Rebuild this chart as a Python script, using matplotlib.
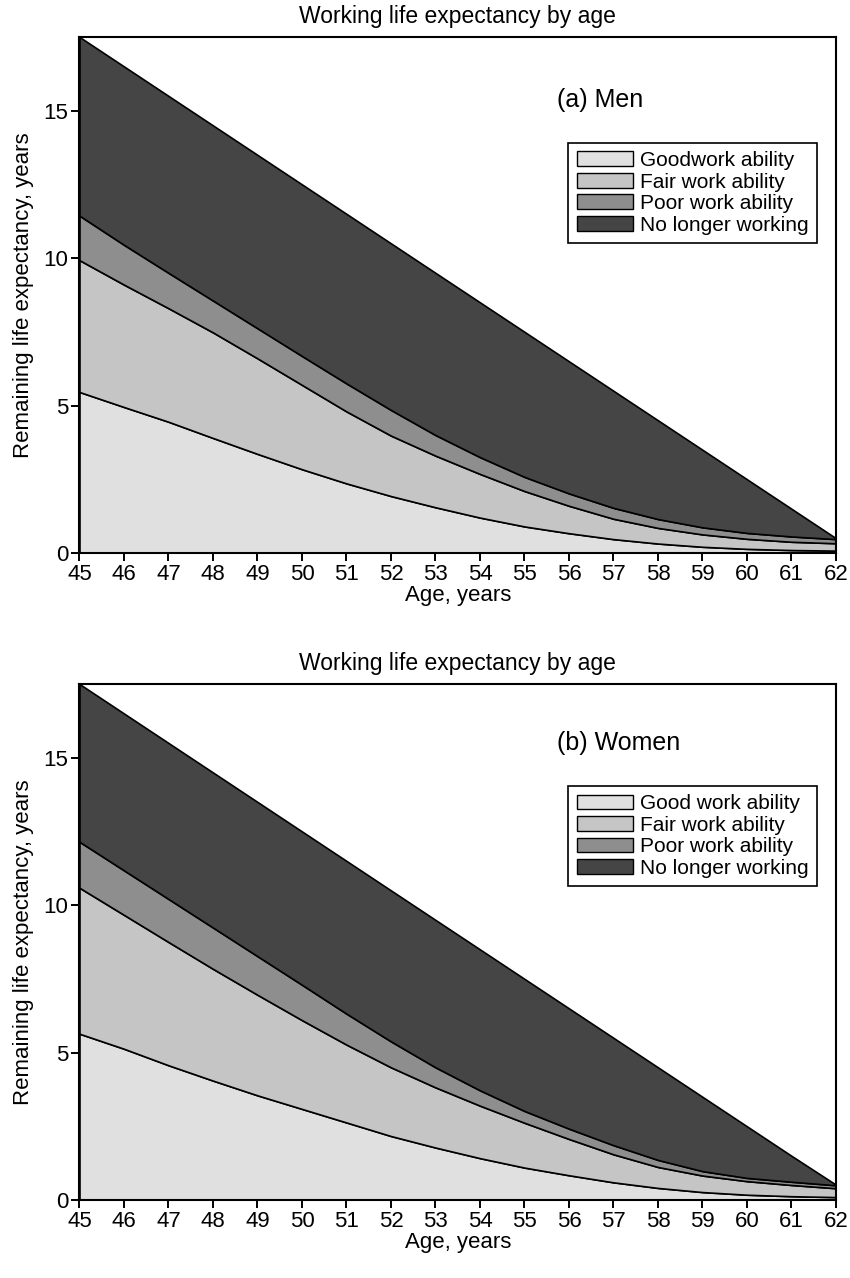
import matplotlib
matplotlib.use("Agg")
import matplotlib.pyplot as plt

plt.rcParams["font.family"] = ["Liberation Sans", "DejaVu Sans"]

AGES = list(range(45, 63))

MEN_LABELS = ["Goodwork ability", "Fair work ability", "Poor work ability", "No longer working"]
WOMEN_LABELS = ["Good work ability", "Fair work ability", "Poor work ability", "No longer working"]

# remaining years in each state (stacked bands)
MEN_GOOD = [5.46, 4.95, 4.45, 3.90, 3.36, 2.84, 2.36, 1.93, 1.55, 1.20, 0.90, 0.67, 0.47, 0.32, 0.21, 0.14, 0.10, 0.08]
MEN_FAIR = [4.47, 4.15, 3.85, 3.58, 3.24, 2.86, 2.44, 2.05, 1.75, 1.48, 1.20, 0.93, 0.69, 0.53, 0.42, 0.34, 0.28, 0.25]
MEN_POOR = [1.51, 1.35, 1.20, 1.08, 1.02, 0.98, 0.95, 0.87, 0.70, 0.57, 0.48, 0.42, 0.37, 0.30, 0.24, 0.20, 0.18, 0.14]
MEN_NOWORK = [6.06, 6.05, 6.00, 5.94, 5.88, 5.82, 5.75, 5.65, 5.50, 5.25, 4.92, 4.48, 3.97, 3.35, 2.63, 1.82, 0.94, 0.03]

WOMEN_GOOD = [5.64, 5.13, 4.57, 4.05, 3.55, 3.09, 2.63, 2.17, 1.78, 1.42, 1.10, 0.84, 0.60, 0.41, 0.27, 0.18, 0.13, 0.10]
WOMEN_FAIR = [4.95, 4.54, 4.18, 3.79, 3.41, 3.01, 2.64, 2.33, 2.04, 1.78, 1.52, 1.23, 0.95, 0.71, 0.56, 0.46, 0.38, 0.30]
WOMEN_POOR = [1.56, 1.51, 1.46, 1.40, 1.31, 1.20, 1.05, 0.88, 0.68, 0.52, 0.40, 0.35, 0.31, 0.24, 0.15, 0.11, 0.11, 0.10]
WOMEN_NOWORK = [5.35, 5.32, 5.29, 5.26, 5.23, 5.20, 5.18, 5.12, 5.00, 4.78, 4.48, 4.08, 3.64, 3.14, 2.52, 1.75, 0.88, 0.02]

COLORS = ["#e0e0e0", "#c5c5c5", "#8e8e8e", "#454545"]
TITLE = "Working life expectancy by age"


def panel(ax, bands, labels, tag, tag_y, leg_top):
    ax.stackplot(AGES, *bands, colors=COLORS, labels=labels,
                 edgecolor="black", linewidth=1.2)
    ax.set_xlim(45, 62)
    ax.set_ylim(0, 17.5)
    ax.set_xticks(AGES)
    ax.set_yticks([0, 5, 10, 15])
    ax.tick_params(direction="out", length=6, width=1.4, labelsize=16, pad=2)
    for s in ax.spines.values():
        s.set_linewidth(1.5)
    ax.set_title(TITLE, fontsize=16.5, pad=10)
    ax.set_xlabel("Age, years", fontsize=16, labelpad=0)
    ax.set_ylabel("Remaining life expectancy, years", fontsize=16, labelpad=7)
    ax.text(0.631, tag_y, tag, transform=ax.transAxes, ha="left", va="center", fontsize=18)
    leg = ax.legend(loc="upper right", bbox_to_anchor=(0.975, leg_top), fontsize=15,
                    frameon=True, fancybox=False, edgecolor="black", framealpha=1,
                    handlelength=2.7, handleheight=0.7, handletextpad=0.35,
                    labelspacing=0.12, borderpad=0.4, borderaxespad=0)
    leg.get_frame().set_linewidth(1.2)
    for h in leg.legend_handles:
        h.set_edgecolor("black")
        h.set_linewidth(1.0)


fig = plt.figure(figsize=(8.5, 12.78), dpi=100)
ax1 = fig.add_axes([0.0935, 0.5673, 0.890, 0.4038])
ax2 = fig.add_axes([0.0935, 0.0610, 0.890, 0.4038])

panel(ax1, [MEN_GOOD, MEN_FAIR, MEN_POOR, MEN_NOWORK], MEN_LABELS, "(a) Men", 0.878, 0.795)
panel(ax2, [WOMEN_GOOD, WOMEN_FAIR, WOMEN_POOR, WOMEN_NOWORK], WOMEN_LABELS, "(b) Women", 0.886, 0.802)

fig.savefig("out.png", dpi=100, facecolor="white")
